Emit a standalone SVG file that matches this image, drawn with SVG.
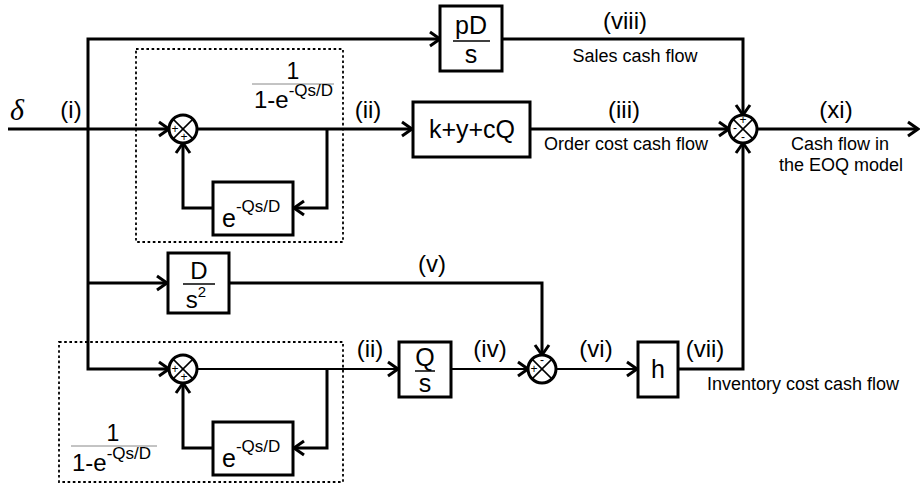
<svg xmlns="http://www.w3.org/2000/svg" width="920" height="487" viewBox="0 0 920 487">
<defs>
<style>
.ln{fill:none;stroke:#000;stroke-width:3;}
.thin{fill:none;stroke:#000;stroke-width:2.2;}
.blk{fill:#fff;stroke:#000;stroke-width:3;}
.dot{fill:none;stroke:#000;stroke-width:1.8;stroke-dasharray:2.6 2.6;}
.sum{fill:#fff;stroke:#000;stroke-width:3;}
.x{stroke:#000;stroke-width:1.5;}
text{font-family:"Liberation Sans",Arial,sans-serif;fill:#000;}
.bt{font-size:25px;text-anchor:middle;}
.sup{font-size:17px;}
.rn{font-size:24px;text-anchor:middle;}
.lb{font-size:18px;}
.sg{font-size:12px;text-anchor:middle;}
.fl{stroke:#000;stroke-width:1.5;}
.fr{stroke:#888;stroke-width:1;}
</style>
<marker id="arr" markerUnits="userSpaceOnUse" markerWidth="16" markerHeight="18" refX="12" refY="9" orient="auto" viewBox="0 0 16 18">
<path d="M2,2 L12,9 L2,16" fill="none" stroke="#000" stroke-width="3"/>
</marker>
<g id="summer">
<circle cx="0" cy="0" r="14" class="sum"/>
<line x1="-9.9" y1="-9.9" x2="9.9" y2="9.9" class="x"/>
<line x1="-9.9" y1="9.9" x2="9.9" y2="-9.9" class="x"/>
</g>
</defs>
<rect width="920" height="487" fill="#fff"/>

<g id="connectors">
<path class="ln" d="M8,129 H169" marker-end="url(#arr)"/>
<path class="ln" d="M88,129 V39 H440" marker-end="url(#arr)"/>
<path class="ln" d="M88,129 V369 H169" marker-end="url(#arr)"/>
<path class="ln" d="M88,283 H167" marker-end="url(#arr)"/>
<path class="ln" d="M197,129 H412" marker-end="url(#arr)"/>
<path class="ln" d="M327,129 V208 H294" marker-end="url(#arr)"/>
<path class="ln" d="M213,208 H183 V143" marker-end="url(#arr)"/>
<path class="ln" d="M502,39 H743 V115" marker-end="url(#arr)"/>
<path class="ln" d="M530,129 H729" marker-end="url(#arr)"/>
<path class="ln" d="M757,129 H918" marker-end="url(#arr)"/>
<path class="ln" d="M678,369 H743 V143" marker-end="url(#arr)"/>
<path class="ln" d="M229,283 H542 V355" marker-end="url(#arr)"/>
<path class="thin" d="M197,369 H398" marker-end="url(#arr)"/>
<path class="ln" d="M327,369 V448 H294" marker-end="url(#arr)"/>
<path class="ln" d="M213,448 H183 V383" marker-end="url(#arr)"/>
<path class="thin" d="M451,369 H528" marker-end="url(#arr)"/>
<path class="thin" d="M556,369 H637" marker-end="url(#arr)"/>
</g>

<g id="loop-top">
<rect x="136" y="49" width="207" height="193" class="dot"/>
<text x="293" y="79" style="font-size:23px;text-anchor:middle">1</text>
<line x1="252" y1="84" x2="334" y2="84" class="fr"/>
<text x="254" y="108" style="font-size:24px">1-e<tspan class="sup" dy="-12">-Qs/D</tspan></text>
</g>
<g id="loop-bottom">
<rect x="59" y="342" width="284" height="140" class="dot"/>
<text x="113" y="441" style="font-size:23px;text-anchor:middle">1</text>
<line x1="71" y1="446" x2="157" y2="446" class="fr"/>
<text x="72" y="471" style="font-size:24px">1-e<tspan class="sup" dy="-12">-Qs/D</tspan></text>
</g>

<g id="sum1"><use href="#summer" x="183" y="129"/><text class="sg" x="175" y="133">+</text><text class="sg" x="184" y="141">+</text></g>
<g id="sum2"><use href="#summer" x="183" y="369"/><text class="sg" x="175" y="373">+</text><text class="sg" x="184" y="381">+</text></g>
<g id="sum3"><use href="#summer" x="542" y="369"/><text class="sg" x="542" y="364">-</text><text class="sg" x="534" y="373">+</text></g>
<g id="sum4"><use href="#summer" x="743" y="129"/><text class="sg" x="743" y="124">+</text><text class="sg" x="735" y="132">-</text><text class="sg" x="743" y="141">-</text></g>

<g id="blk-pD">
<rect x="440" y="6" width="62" height="65" class="blk"/>
<text class="bt" x="471" y="34">pD</text>
<line x1="453" y1="41" x2="490" y2="41" class="fl"/>
<text class="bt" x="471" y="63">s</text>
</g>
<g id="blk-kyc">
<rect x="413" y="102" width="117" height="55" class="blk"/>
<text class="bt" x="472" y="138">k+y+cQ</text>
</g>
<g id="blk-e1">
<rect x="213" y="182" width="80" height="53" class="blk"/>
<text x="222" y="227" style="font-size:25px">e<tspan class="sup" dy="-15">-Qs/D</tspan></text>
</g>
<g id="blk-D">
<rect x="168" y="253" width="61" height="60" class="blk"/>
<text x="199" y="279" style="font-size:24px;text-anchor:middle">D</text>
<line x1="183" y1="284" x2="215" y2="284" class="fl"/>
<text x="196" y="308" style="font-size:24px;text-anchor:middle">s<tspan style="font-size:15px" dy="-11">2</tspan></text>
</g>
<g id="blk-e2">
<rect x="213" y="422" width="80" height="53" class="blk"/>
<text x="222" y="467" style="font-size:25px">e<tspan class="sup" dy="-15">-Qs/D</tspan></text>
</g>
<g id="blk-Q">
<rect x="399" y="342" width="52" height="55" class="blk"/>
<text class="bt" x="425" y="366">Q</text>
<line x1="415" y1="371" x2="435" y2="371" class="fl"/>
<text class="bt" x="425" y="392">s</text>
</g>
<g id="blk-h">
<rect x="638" y="342" width="40" height="55" class="blk"/>
<text class="bt" x="658" y="378">h</text>
</g>

<g id="labels">
<text x="10" y="120" style="font-family:'Liberation Serif',serif;font-style:italic;font-size:30px">δ</text>
<text class="rn" x="71" y="118">(i)</text>
<text class="rn" x="368" y="118">(ii)</text>
<text class="rn" x="370" y="357">(ii)</text>
<text class="rn" x="625" y="29">(viii)</text>
<text class="lb" x="635" y="62" text-anchor="middle">Sales cash flow</text>
<text class="rn" x="624" y="118">(iii)</text>
<text class="lb" x="626" y="150" text-anchor="middle">Order cost cash flow</text>
<text class="rn" x="836" y="118">(xi)</text>
<text class="lb" x="840" y="150" text-anchor="middle">Cash flow in</text>
<text class="lb" x="841" y="171" text-anchor="middle">the EOQ model</text>
<text class="rn" x="432" y="272">(v)</text>
<text class="rn" x="490" y="357">(iv)</text>
<text class="rn" x="596" y="357">(vi)</text>
<text class="rn" x="705" y="357">(vii)</text>
<text class="lb" x="707" y="390">Inventory cost cash flow</text>
</g>
</svg>
